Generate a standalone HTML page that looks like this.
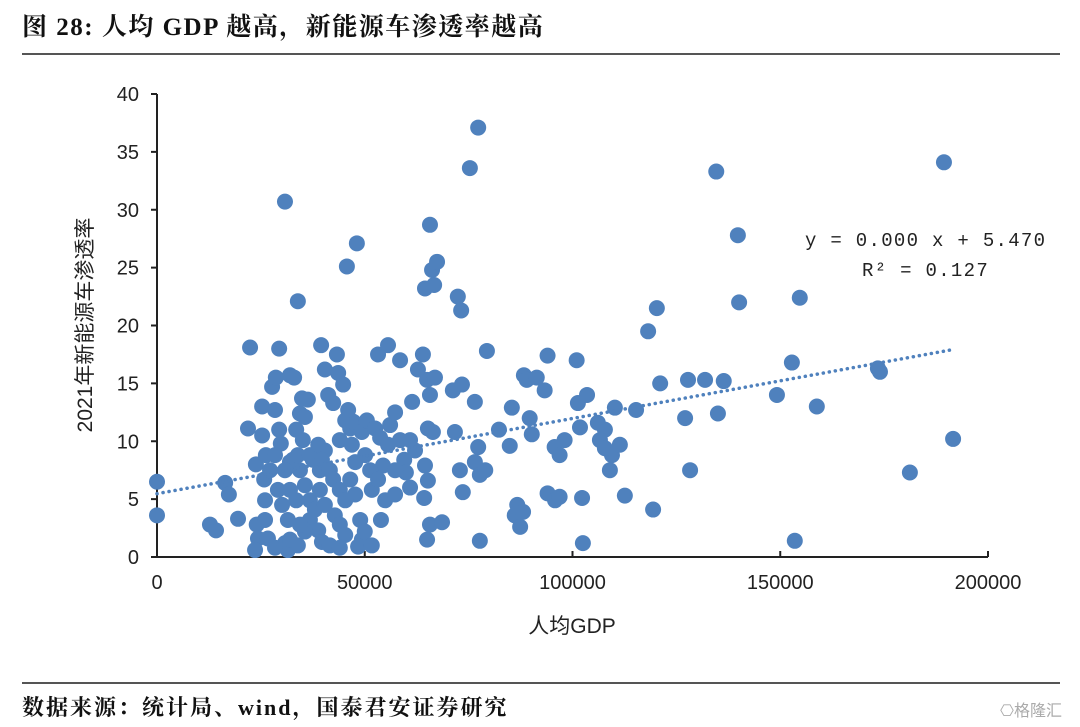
<!DOCTYPE html>
<html><head><meta charset="utf-8">
<style>
html,body{margin:0;padding:0;background:#fff;width:1080px;height:727px;overflow:hidden;}
svg{display:block}
</style></head>
<body>
<svg id="chart" width="1080" height="727" xmlns="http://www.w3.org/2000/svg">
<text x="22" y="35" font-family="'Liberation Serif','Noto Serif CJK SC',serif" font-weight="bold" font-size="25" letter-spacing="1.5" fill="#111">图 28:  人均 GDP 越高，新能源车渗透率越高</text>
<line x1="22" y1="54" x2="1060" y2="54" stroke="#555" stroke-width="2"/>
<line x1="22" y1="683" x2="1060" y2="683" stroke="#555" stroke-width="2"/>
<text x="22" y="715" font-family="'Liberation Serif','Noto Serif CJK SC',serif" font-weight="bold" font-size="22" letter-spacing="2" fill="#111">数据来源：统计局、wind，国泰君安证券研究</text>
<text x="1000" y="716" font-family="'Liberation Sans','Noto Sans CJK SC',sans-serif" font-size="16" fill="#aaa">⎔格隆汇</text>
<g id="plot"></g>
<text x="805" y="246" font-family="'Liberation Mono',monospace" font-size="19" letter-spacing="1.3" fill="#222">y = 0.000 x + 5.470</text>
<text x="862" y="276" font-family="'Liberation Mono',monospace" font-size="19" letter-spacing="1.3" fill="#222">R² = 0.127</text>
<text x="572" y="633" text-anchor="middle" font-family="'Liberation Sans','Noto Sans CJK SC',sans-serif" font-size="21" fill="#222">人均GDP</text>
<text transform="translate(92,325) rotate(-90)" text-anchor="middle" font-family="'Liberation Sans','Noto Sans CJK SC',sans-serif" font-size="21" fill="#222">2021年新能源车渗透率</text>
</svg>
<script>
const gdp = [0,0,12750,14200,16400,17300,19500,21900,22400,23800,24000,24300,23600,25300,25300,25800,26000,26200,27700,28600,29400,28400,29400,29800,30800,30800,31500,32000,33000,33900,33500,34400,34900,35600,36300,32700,34400,35600,32000,33500,36800,38000,36800,38800,35600,39700,33900,37500,39200,40400,39500,40400,41200,42400,43300,43600,44800,44000,45300,45700,46500,46900,47700,46500,47700,48100,48900,49300,48400,50000,51700,47200,49300,50500,52500,53200,53700,54400,53900,54900,55600,56100,57300,58500,59500,59900,60900,61400,62800,64000,64500,65700,66200,66700,67400,65000,65700,66900,65200,66400,64500,65200,64300,65700,65000,68600,71200,71700,72400,73200,73400,72900,73600,75300,77300,76500,77300,76500,77700,79400,82300,84900,85400,86100,87400,88300,89000,89700,90200,91400,93300,94000,94000,95700,96900,98100,101000,101300,101800,102300,102500,103500,106100,107800,109500,109000,110200,111400,112600,115300,118200,119400,120300,121100,127100,127800,128300,131900,134600,135000,136400,139800,140100,149200,152800,153500,154700,158800,173500,174000,181200,189400,191600,32000,33900,35100,36800,38800,39700,41600,42400,44000,45300,39200,40400,42800,44000,45300,34400,31500,30100,29100,27200,28400,30800,26000,26700,28400,32000,41600,44000,46000,50100,51300,51700,53200,55600,57300,57300,58500,60900,62100,77700,79000,106600,107800,86700,88100,95800,96900];
const rate = [6.5,3.6,2.8,2.3,6.4,5.4,3.3,11.1,18.1,8.0,2.8,1.6,0.6,13,10.5,6.7,4.9,8.8,14.7,15.5,18,12.7,11,9.8,30.7,1.2,0.6,15.7,15.5,22.1,11,12.4,13.7,12.1,13.6,8.4,7.5,6.2,5.8,4.9,4.9,4.1,3.2,2.3,2.2,1.3,1,8.4,7.5,9.2,18.3,16.2,14,13.3,17.5,15.9,14.9,10.1,11.8,25.1,11.1,9.7,8.2,6.7,5.4,27.1,3.2,1.5,0.9,2.2,1,11.7,10.8,11.8,11.1,17.5,10.3,7.9,3.2,4.9,18.3,11.4,12.5,17,8.4,7.3,6,13.4,16.2,17.5,23.2,28.7,24.8,23.5,25.5,15.3,14,15.5,11.1,10.8,7.9,6.6,5.1,2.8,1.5,3,14.4,10.8,22.5,21.3,14.9,7.5,5.6,33.6,37.1,13.4,9.5,8.2,1.4,17.8,11,9.6,12.9,3.6,2.6,15.7,15.3,12,10.6,15.5,14.4,17.4,5.5,9.5,8.8,10.1,17,13.3,11.2,5.1,1.2,14,11.6,11,8.8,7.5,12.9,9.7,5.3,12.7,19.5,4.1,21.5,15,12,15.3,7.5,15.3,33.3,12.4,15.2,27.8,22,14,16.8,1.4,22.4,13,16.3,16,7.3,34.1,10.2,8.2,8.8,10.1,8.8,9.7,8.4,7.5,6.7,5.8,4.9,5.8,4.5,3.6,2.8,1.9,2.8,3.2,4.5,5.8,7.5,8.8,7.5,3.2,1.6,0.8,1.5,1,0.8,12.7,8.8,7.5,5.8,6.7,9.7,7.5,5.4,10.1,10.1,9.2,7.1,7.5,10.1,9.4,4.5,3.9,4.9,5.2];
const xTicks = [0,50000,100000,150000,200000];
const yTicks = [0,5,10,15,20,25,30,35,40];
const trendIntercept = 5.47;
const trendSlope = 0.000065;

const NS = 'http://www.w3.org/2000/svg';
const X0=157, X1=988, Y0=557, Y1=94;
const xs = v => X0 + (v-0)/(200000-0)*(X1-X0);
const ys = v => Y0 - (v-0)/(40-0)*(Y0-Y1);
const plot = document.getElementById('plot');
function mk(tag, attrs){const e=document.createElementNS(NS,tag);for(const k in attrs)e.setAttribute(k,attrs[k]);plot.appendChild(e);return e;}

let ax = mk('line',{x1:X0,y1:Y1,x2:X0,y2:Y0,stroke:'#222','stroke-width':2});


ax = mk('line',{x1:X0,y1:Y0,x2:X1,y2:Y0,stroke:'#222','stroke-width':2});


yTicks.forEach(t=>{
  const y=ys(t);
  const tk=mk('line',{x1:X0-6,y1:y,x2:X0,y2:y,stroke:'#222','stroke-width':2});
  
  
  const lb=mk('text',{x:X0-18,y:y+7,'text-anchor':'end','font-family':"'Liberation Sans',sans-serif",'font-size':20,fill:'#222'});
  lb.textContent=t;
  
  
});
xTicks.forEach(t=>{
  const x=xs(t);
  const tk=mk('line',{x1:x,y1:Y0,x2:x,y2:Y0-6,stroke:'#222','stroke-width':2});
  
  
  const lb=mk('text',{x:x,y:Y0+32,'text-anchor':'middle','font-family':"'Liberation Sans',sans-serif",'font-size':20,fill:'#222'});
  lb.textContent=t;
  
  
});
gdp.forEach((g,i)=>{
  const c=mk('circle',{cx:xs(g),cy:ys(rate[i]),r:8,fill:'#4f81bd'});
  
  
});
const xmax=Math.max(...gdp);
const tl=mk('line',{x1:xs(0),y1:ys(trendIntercept),x2:xs(xmax),y2:ys(trendIntercept+trendSlope*xmax),stroke:'#4f81bd','stroke-width':3.5,'stroke-dasharray':'0.1 6','stroke-linecap':'round'});


</script>
</body></html>
